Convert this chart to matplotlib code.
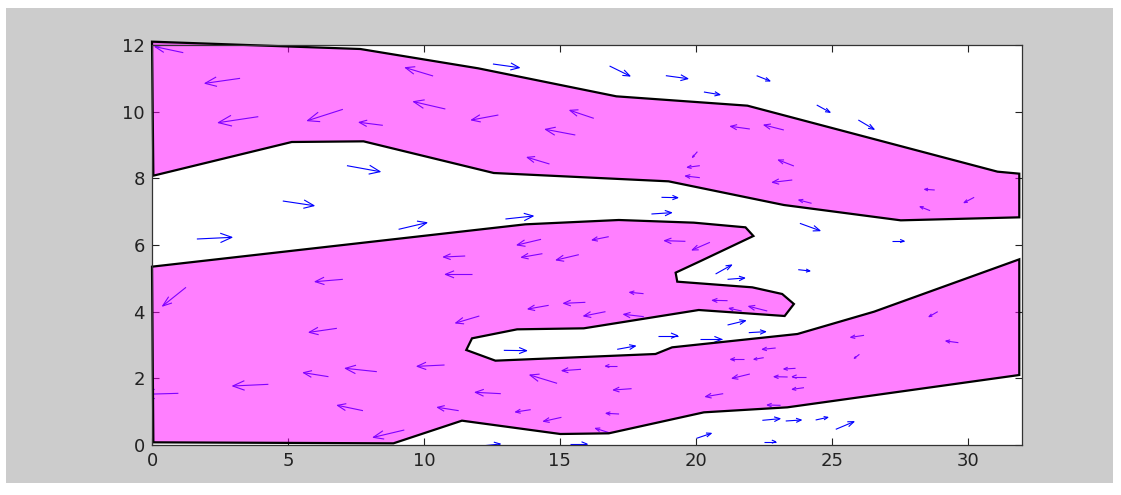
import matplotlib
matplotlib.use("Agg")
import matplotlib.pyplot as plt
from matplotlib.patches import Polygon, Rectangle
from matplotlib.collections import LineCollection
import numpy as np

# upper band polygon (data coords)
upper_x = [0, 7.66, 12.0, 17.08, 21.9, 31.1, 31.9, 31.9, 27.54, 23.24, 19.0, 12.57, 7.78, 5.14, 0.05]
upper_y = [12.1, 11.88, 11.3, 10.46, 10.18, 8.2, 8.14, 6.83, 6.74, 7.2, 7.91, 8.16, 9.11, 9.09, 8.08]

# lower blob polygon
lower_x = [0, 13.73, 17.17, 19.93, 21.83, 22.12, 20.18, 19.26, 19.32, 22.08, 23.18, 23.61,
           23.27, 20.11, 15.88, 13.43, 11.77, 11.56, 12.63, 18.52, 19.13, 23.74, 26.56, 31.9,
           31.9, 23.37, 20.3, 16.8, 15.02, 11.4, 8.88, 0.05]
lower_y = [5.35, 6.62, 6.75, 6.67, 6.53, 6.27, 5.52, 5.17, 4.9, 4.73, 4.53, 4.23,
           3.87, 4.05, 3.5, 3.47, 3.2, 2.85, 2.53, 2.73, 2.93, 3.33, 4.0, 5.57,
           2.1, 1.13, 0.98, 0.35, 0.33, 0.73, 0.05, 0.08]

# quiver field: base x, base y, u, v
qx = [1.15, 3.24, 3.91, 7.02, 8.49, 10.34, 10.79, 7.17, 4.81, 1.65, 9.07,
      12.54, 16.83, 18.90, 20.30, 16.25, 12.74, 15.57, 14.62, 20.06, 20.15, 20.15, 18.74, 18.37, 13.00,
      14.31, 16.80, 19.62, 20.52,
      22.24, 24.45, 25.98, 21.99, 23.24, 23.61, 23.55, 24.26, 23.83, 27.23, 28.79, 28.62, 30.24,
      1.25, 7.02, 6.80, 8.27, 6.49, 4.28, 0.97, 10.76, 7.76, 9.28, 11.28,
      11.52, 14.36, 15.70, 11.76, 20.73, 18.08, 21.17, 14.59, 15.94, 12.04, 16.68, 18.09, 12.94,
      17.11, 18.60, 20.15, 15.78, 17.11, 14.90, 12.83, 17.64, 21.01, 13.93, 17.18, 15.06, 16.81,
      15.39, 20.03, 12.11,
      21.17, 23.77, 22.63, 21.69, 21.17, 21.95, 26.19, 26.02, 22.94, 21.77, 22.50, 23.38, 23.67,
      24.04, 23.98, 21.99, 23.12, 22.45, 23.31, 24.41, 25.15, 22.51, 28.90, 29.66]
qy = [11.77, 11.00, 9.85, 10.07, 9.59, 11.07, 10.08, 8.38, 7.32, 6.18, 6.47,
      11.43, 11.37, 11.08, 10.59, 9.80, 9.90, 9.30, 8.43, 8.80, 8.38, 8.02, 7.43, 6.93, 6.78,
      6.17, 6.25, 6.11, 6.08,
      11.08, 10.20, 9.75, 9.48, 9.45, 8.37, 7.95, 7.25, 6.65, 6.12, 7.65, 7.03, 7.43,
      4.73, 4.97, 3.50, 2.20, 2.05, 1.82, 1.55, 2.40, 1.03, 0.45, 1.03,
      5.67, 5.74, 5.71, 5.12, 5.13, 4.54, 4.33, 4.19, 4.28, 3.87, 4.00, 3.85, 2.84,
      2.87, 3.28, 3.17, 2.27, 2.37, 1.85, 1.54, 1.69, 1.54, 1.06, 0.93, 0.83, 0.37,
      0.03, 0.20, -0.03,
      4.97, 5.26, 4.02, 4.02, 3.60, 3.37, 3.29, 2.72, 2.91, 2.57, 2.62, 2.04, 2.30,
      2.05, 1.72, 2.13, 1.19, 0.74, 0.72, 0.75, 0.47, 0.10, 4.00, 3.07]
qu = [-1.04, -1.29, -1.47, -1.30, -0.87, -1.02, -1.17, 1.22, 1.15, 1.29, 1.04,
      0.97, 0.75, 0.81, 0.59, -0.88, -0.99, -1.10, -0.82, -0.18, -0.46, -0.53, 0.60, 0.74, 1.02,
      -0.88, -0.61, -0.77, -0.65,
      0.49, 0.49, 0.58, -0.71, -0.73, -0.57, -0.73, -0.47, 0.74, 0.43, -0.37, -0.37, -0.37,
      -0.86, -1.02, -1.02, -1.16, -0.92, -1.31, -1.30, -1.01, -0.94, -1.14, -0.78,
      -0.80, -0.77, -0.83, -0.97, 0.59, -0.51, -0.56, -0.76, -0.80, -0.87, -0.80, -0.74, 0.84,
      0.67, 0.73, 0.80, -0.70, -0.43, -1.00, -0.94, -0.67, -0.65, -0.56, -0.48, -0.66, -0.50,
      0.61, 0.54, 0.70,
      0.63, 0.43, -0.68, -0.46, 0.66, 0.62, -0.49, -0.19, -0.49, -0.49, -0.36, -0.50, -0.43,
      -0.49, -0.43, -0.65, -0.49, 0.65, 0.57, 0.45, 0.67, 0.43, -0.32, -0.46]
qv = [0.18, -0.15, -0.18, -0.34, 0.09, 0.25, 0.22, -0.18, -0.14, 0.05, 0.20,
      -0.11, -0.30, -0.09, -0.08, 0.24, -0.15, 0.17, 0.20, -0.17, -0.05, 0.05, -0.01, 0.04, 0.09,
      -0.17, -0.10, 0.02, -0.23,
      -0.16, -0.22, -0.28, 0.08, 0.15, 0.18, -0.07, 0.10, -0.22, 0.00, 0.02, 0.12, -0.16,
      -0.56, -0.07, -0.12, 0.10, 0.12, -0.05, -0.03, -0.04, 0.16, -0.22, 0.10,
      -0.03, -0.11, -0.16, 0.00, 0.27, 0.04, 0.01, -0.11, -0.03, -0.21, -0.13, 0.07, -0.01,
      0.10, 0.00, 0.00, -0.04, 0.00, 0.25, 0.04, -0.04, -0.09, -0.07, 0.02, -0.12, 0.13,
      0.00, 0.15, 0.06,
      0.04, -0.04, 0.14, 0.08, 0.13, 0.03, -0.06, -0.12, -0.04, 0.00, -0.05, 0.01, -0.02,
      0.00, -0.05, -0.13, 0.01, 0.05, 0.03, 0.08, 0.23, 0.00, -0.15, 0.05]

x_ticks = [0, 5, 10, 15, 20, 25, 30]
y_ticks = [0, 2, 4, 6, 8, 10, 12]

fig = plt.figure(figsize=(11.21, 4.95), dpi=100, facecolor="white")
fig.patches.append(Rectangle((0.005, 0.025), 0.988, 0.958, transform=fig.transFigure,
                             facecolor="#cccccc", edgecolor="none", zorder=-10))
ax = fig.add_axes([152 / 1121, 50 / 495, 870 / 1121, 400 / 495])
ax.set_facecolor("white")

# matlab-style quiver: shaft + open head (alpha=beta=0.33)
x = np.array(qx); y = np.array(qy); u = np.array(qu); v = np.array(qv)
a, b = 0.33, 0.33
tipx, tipy = x + u, y + v
segs = []
for i in range(len(x)):
    segs.append([(x[i], y[i]), (tipx[i], tipy[i])])
    segs.append([(tipx[i] - a * (u[i] + b * v[i]), tipy[i] - a * (v[i] - b * u[i])),
                 (tipx[i], tipy[i]),
                 (tipx[i] - a * (u[i] - b * v[i]), tipy[i] - a * (v[i] + b * u[i]))])
ax.add_collection(LineCollection(segs, colors="#0000ff", linewidths=0.8, zorder=1))

for px, py in [(upper_x, upper_y), (lower_x, lower_y)]:
    ax.add_patch(Polygon(np.column_stack([px, py]), closed=True, facecolor=(1, 0, 1, 0.5),
                         edgecolor="black", linewidth=1.6, zorder=2, clip_on=False))

ax.set_xlim(0, 32)
ax.set_ylim(0, 12)
ax.set_xticks(x_ticks)
ax.set_yticks(y_ticks)
ax.tick_params(direction="in", length=5, width=0.8, top=True, right=True,
               labelsize=13, colors="#222222", pad=5)
for s in ax.spines.values():
    s.set_color("#333333")
    s.set_linewidth(0.9)

fig.savefig("out.png", dpi=100, facecolor=fig.get_facecolor())
